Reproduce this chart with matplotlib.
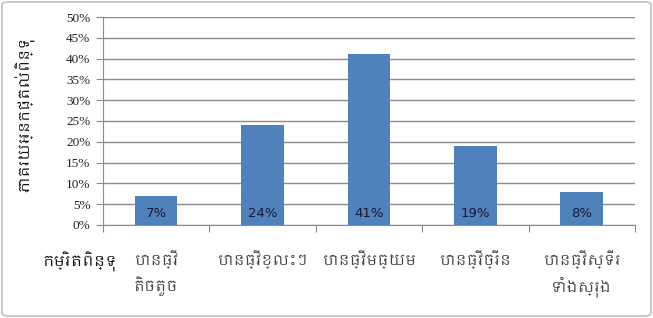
import matplotlib
matplotlib.use("Agg")
import matplotlib.pyplot as plt
from matplotlib import font_manager
from matplotlib.patches import FancyBboxPatch
import numpy as np

categories = ["បានធ្វើ\nតិចតួច", "បានធ្វើខ្លះៗ", "បានធ្វើមធ្យម", "បានធ្វើច្រើន", "បានធ្វើស្ទើរ\nទាំងស្រុង"]
values = [7, 24, 41, 19, 8]
yticks = [0, 5, 10, 15, 20, 25, 30, 35, 40, 45, 50]
ylabel = "ភាគរយអ្នកផ្តល់ពិន្ទុ"
xlabel = "កម្រិតពិន្ទុ"

# look for a font with Khmer support
khmer_fams = []
for f in font_manager.fontManager.ttflist:
    if "khmer" in f.name.lower() or "khmer" in f.fname.lower():
        khmer_fams.append(f.name)
fams = sorted(set(khmer_fams)) + ["DejaVu Sans"]

fig = plt.figure(figsize=(6.53, 3.18), dpi=100)
fig.patch.set_facecolor("white")
border = FancyBboxPatch((0.003, 0.006), 0.994, 0.988, boxstyle="round,pad=0,rounding_size=0.01",
                        transform=fig.transFigure, fill=False, edgecolor="#c0c0c0", linewidth=1.2)
fig.patches.append(border)

ax = fig.add_axes([0.1577, 0.2925, 0.8147, 0.654])
x = np.arange(len(values))
bars = ax.bar(x, values, width=0.4, color="#4F81BD", zorder=3)
ax.set_xlim(-0.5, len(values) - 0.5)
ax.set_ylim(0, 50)
ax.set_yticks(yticks)
ax.set_yticklabels([f"{v}%" for v in yticks], fontfamily="Liberation Serif", fontsize=9.5, color="#222222")
ax.yaxis.grid(True, color="#8c8c8c", linewidth=1.0, zorder=0)
ax.set_axisbelow(True)
for s in ["top", "right"]:
    ax.spines[s].set_visible(False)
ax.spines["left"].set_color("#8c8c8c")
ax.spines["bottom"].set_color("#8c8c8c")
ax.tick_params(axis="y", length=5, color="#8c8c8c", pad=4)
ax.set_xticks(np.arange(len(values) + 1) - 0.5)
ax.set_xticklabels([])
ax.tick_params(axis="x", length=5, color="#8c8c8c")

for xi, v in zip(x, values):
    ax.text(xi, 1.3, f"{v}%", ha="center", va="bottom", fontsize=9.5,
            fontfamily="DejaVu Sans", color="#1a1a33", zorder=4)

for xi, c in zip(x, categories):
    ax.text(xi, -6.0, c, ha="center", va="top", fontsize=10.5, family=fams, color="#444444",
            linespacing=1.5)

fig.text(0.065, 0.175, xlabel, ha="left", va="center", fontsize=11, fontweight="bold",
         family=fams, color="#111111")
fig.text(0.038, 0.64, ylabel, ha="center", va="center", rotation=90, fontsize=10.5,
         family=fams, color="#111111")

fig.savefig("out.png", dpi=100, facecolor="white")
